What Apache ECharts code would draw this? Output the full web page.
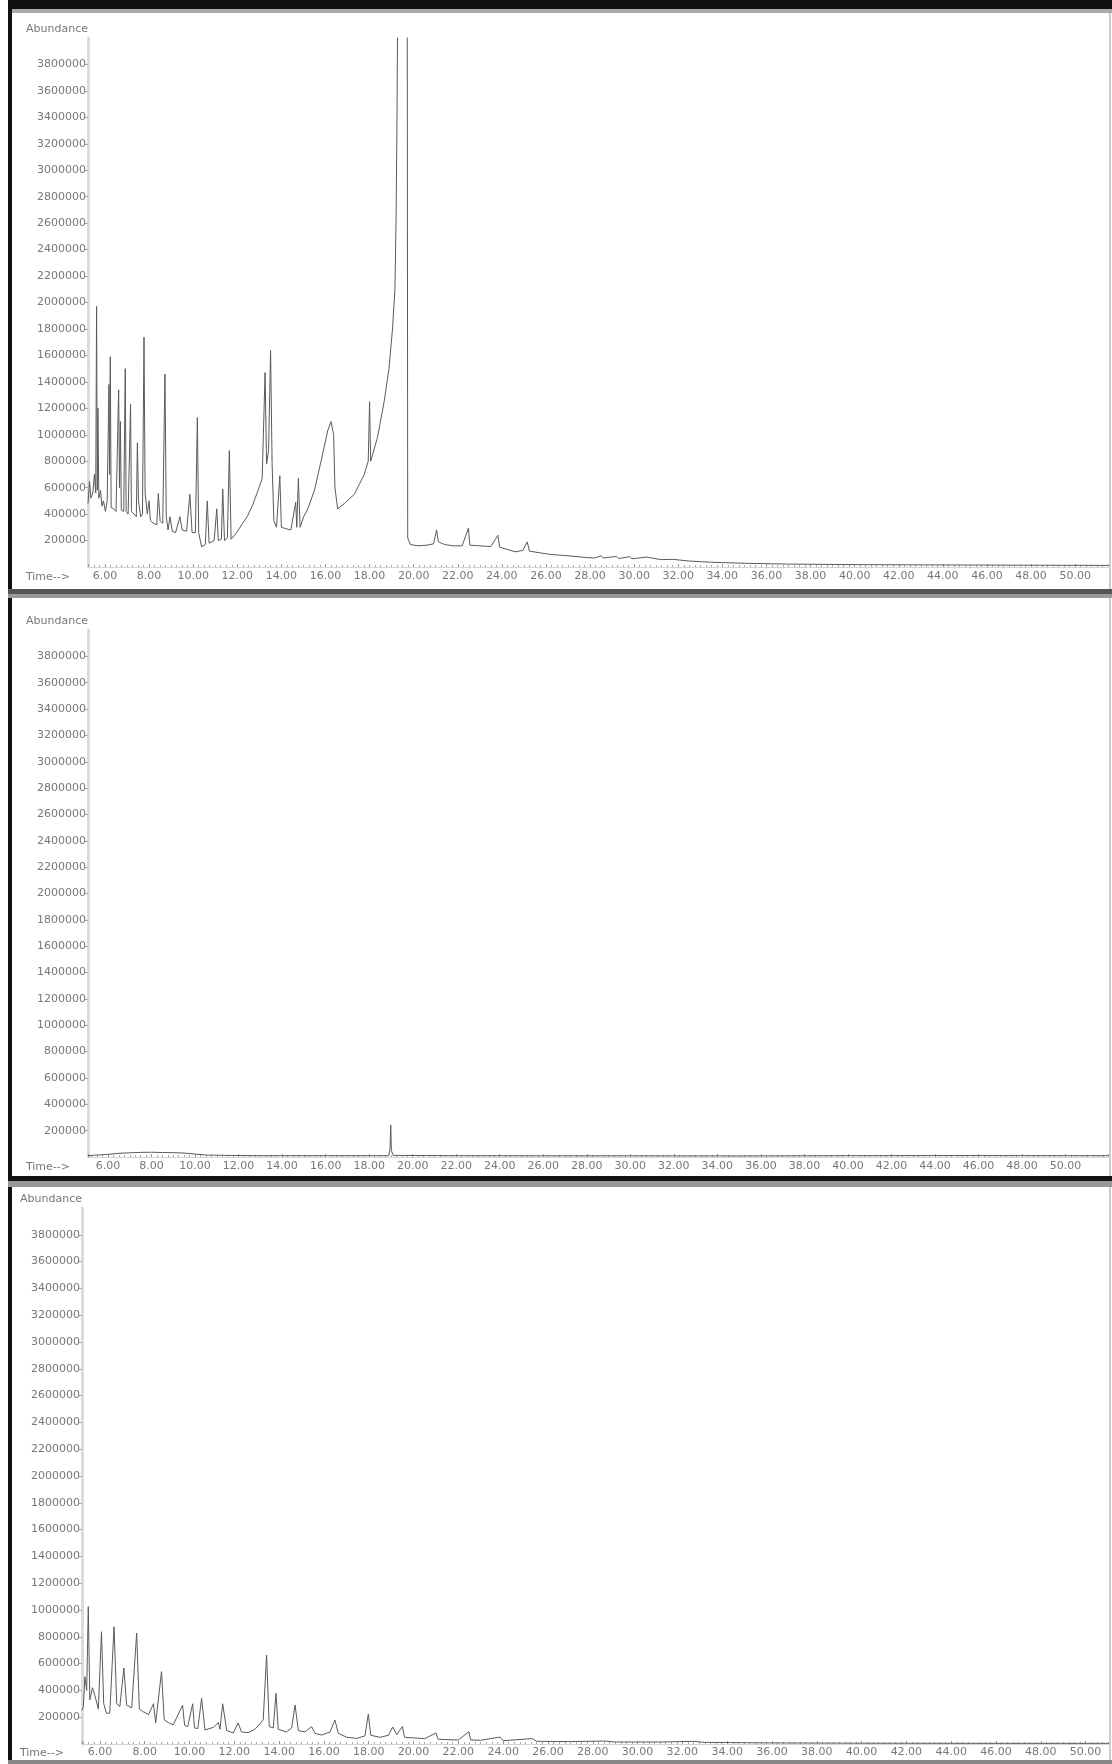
<!DOCTYPE html>
<html>
<head>
<meta charset="utf-8">
<title>TIC chromatograms</title>
<script src="https://cdn.jsdelivr.net/npm/echarts@6/dist/echarts.min.js"></script>
<style>
  html, body { margin: 0; padding: 0; background: #fff; }
  #chart { width: 1112px; height: 1764px; }
</style>
</head>
<body>
<div id="chart"></div>
<script>
// abundance, [time (min), abundance]
const traceTop = [
  [5.23, 480000], [5.30, 650000], [5.36, 520000], [5.45, 560000], [5.52, 700000],
  [5.58, 560000], [5.62, 1970000], [5.65, 580000], [5.68, 1200000], [5.72, 520000],
  [5.80, 580000], [5.86, 460000], [5.93, 500000], [6.02, 420000], [6.10, 500000],
  [6.18, 1380000], [6.21, 700000], [6.24, 1590000], [6.28, 450000], [6.40, 440000],
  [6.50, 420000], [6.62, 1340000], [6.66, 600000], [6.70, 1100000], [6.74, 430000],
  [6.85, 420000], [6.92, 1500000], [6.96, 420000], [7.05, 400000], [7.16, 1230000],
  [7.20, 420000], [7.32, 400000], [7.42, 380000], [7.47, 940000], [7.52, 500000],
  [7.62, 380000], [7.70, 400000], [7.77, 1737000], [7.82, 560000], [7.92, 400000],
  [8.00, 500000], [8.06, 350000], [8.20, 330000], [8.35, 320000], [8.42, 556000],
  [8.50, 350000], [8.62, 330000], [8.72, 1459000], [8.78, 380000], [8.86, 280000],
  [8.95, 380000], [9.05, 270000], [9.20, 260000], [9.40, 380000], [9.50, 280000],
  [9.70, 270000], [9.85, 550000], [9.95, 260000], [10.10, 260000], [10.19, 1130000],
  [10.25, 260000], [10.38, 153000], [10.55, 170000], [10.64, 500000], [10.72, 180000],
  [10.95, 200000], [11.07, 440000], [11.14, 200000], [11.28, 210000], [11.34, 590000],
  [11.42, 200000], [11.55, 220000], [11.64, 880000], [11.72, 210000], [11.97, 260000],
  [12.20, 320000], [12.45, 380000], [12.70, 470000], [12.90, 560000], [13.13, 670000],
  [13.26, 1470000], [13.33, 780000], [13.42, 880000], [13.51, 1637000], [13.58, 780000],
  [13.66, 350000], [13.78, 300000], [13.93, 690000], [14.00, 300000], [14.20, 290000],
  [14.43, 280000], [14.65, 490000], [14.70, 300000], [14.77, 670000], [14.85, 300000],
  [15.01, 380000], [15.20, 440000], [15.50, 580000], [15.80, 800000], [16.10, 1030000],
  [16.25, 1100000], [16.37, 1000000], [16.43, 600000], [16.55, 440000], [16.86, 480000],
  [17.31, 550000], [17.76, 700000], [17.94, 800000], [18.00, 1250000], [18.05, 800000],
  [18.36, 980000], [18.66, 1250000], [18.88, 1500000], [19.04, 1800000], [19.15, 2100000],
  [19.20, 2600000], [19.24, 3300000], [19.27, 4100000], [19.30, 6000000], [19.70, 6000000],
  [19.73, 220000], [19.85, 170000], [20.20, 160000], [20.60, 165000], [20.90, 175000],
  [21.04, 280000], [21.12, 190000], [21.40, 170000], [21.80, 160000], [22.20, 160000],
  [22.48, 293000], [22.55, 165000], [23.00, 160000], [23.50, 155000], [23.82, 240000],
  [23.90, 150000], [24.30, 130000], [24.60, 115000], [24.95, 125000], [25.15, 190000],
  [25.25, 120000], [25.80, 105000], [26.20, 95000], [27.00, 85000], [27.80, 72000],
  [28.20, 68000], [28.50, 85000], [28.60, 68000], [29.20, 80000], [29.30, 64000],
  [29.80, 78000], [29.90, 62000], [30.57, 75000], [30.65, 60000], [31.20, 56000],
  [31.76, 58000], [31.85, 50000], [32.50, 45000], [33.50, 36000], [35.00, 28000],
  [37.00, 22000], [40.00, 18000], [45.00, 15000], [51.49, 12000]
];

const traceMiddle = [
  [5.08, 10000], [5.50, 15000], [6.00, 20000], [6.50, 28000], [7.00, 32000],
  [7.50, 35000], [8.00, 36000], [8.50, 34000], [9.00, 33000], [9.50, 30000],
  [10.00, 22000], [10.50, 15000], [11.50, 12000], [13.00, 10000], [15.00, 10000],
  [17.00, 10000], [18.90, 10000], [18.96, 60000], [18.99, 243000], [19.02, 50000],
  [19.10, 12000], [22.00, 10000], [26.00, 9000], [30.00, 9000], [35.00, 8000],
  [40.00, 10000], [45.00, 11000], [50.00, 10000], [51.95, 10000]
];

const traceBottom = [
  [5.20, 250000], [5.26, 278000], [5.33, 502000], [5.41, 400000], [5.48, 1025000],
  [5.55, 330000], [5.67, 420000], [5.78, 360000], [5.93, 260000], [6.07, 838000],
  [6.17, 300000], [6.29, 230000], [6.44, 230000], [6.63, 875000], [6.75, 300000],
  [6.89, 280000], [7.07, 567000], [7.19, 290000], [7.42, 270000], [7.64, 828000],
  [7.76, 260000], [7.94, 240000], [8.17, 220000], [8.39, 300000], [8.49, 157000],
  [8.75, 540000], [8.87, 180000], [9.05, 160000], [9.27, 142000], [9.69, 290000],
  [9.78, 140000], [9.92, 130000], [10.14, 300000], [10.22, 120000], [10.37, 115000],
  [10.54, 341000], [10.69, 104000], [11.07, 125000], [11.29, 160000], [11.36, 110000],
  [11.48, 300000], [11.66, 100000], [11.95, 82000], [12.17, 157000], [12.32, 90000],
  [12.62, 85000], [12.92, 110000], [13.14, 150000], [13.29, 180000], [13.44, 664000],
  [13.56, 130000], [13.74, 120000], [13.86, 378000], [13.96, 110000], [14.33, 90000],
  [14.56, 120000], [14.71, 291000], [14.86, 100000], [15.15, 90000], [15.45, 130000],
  [15.60, 80000], [15.90, 67000], [16.27, 90000], [16.49, 179000], [16.64, 80000],
  [17.02, 50000], [17.46, 42000], [17.83, 60000], [17.98, 224000], [18.09, 65000],
  [18.50, 50000], [18.88, 65000], [19.07, 127000], [19.25, 70000], [19.50, 130000],
  [19.60, 50000], [20.50, 40000], [21.00, 82000], [21.10, 35000], [22.00, 30000],
  [22.47, 92000], [22.55, 30000], [23.00, 28000], [23.86, 52000], [24.00, 25000],
  [25.30, 40000], [25.50, 20000], [27.00, 18000], [28.50, 22000], [29.00, 15000],
  [31.00, 15000], [32.50, 20000], [33.00, 12000], [36.00, 8000], [40.00, 6000],
  [45.00, 5000], [51.09, 5000]
];

// visible time window of each panel (min)
const timeRanges = [[5.23, 51.49], [5.08, 51.95], [5.20, 51.09]];
const abundRange = [0, 4000000];

const textGrey = '#777';
const labelFont = 'DejaVu Sans';

function timeAxis(gridIndex, range, margin) {
  return {
    type: 'value',
    gridIndex: gridIndex,
    min: range[0],
    max: range[1],
    splitNumber: 23,
    minInterval: 2,
    maxInterval: 2,
    name: 'Time-->',
    nameLocation: 'start',
    nameGap: 18,
    nameTextStyle: { color: textGrey, fontSize: 11, fontFamily: labelFont, verticalAlign: 'top', padding: [margin + 1, 0, 0, 0] },
    axisLine: { lineStyle: { color: '#d4d4d4', width: 1 } },
    axisTick: { show: true, inside: true, length: 3, lineStyle: { color: '#999' } },
    minorTick: { show: true, splitNumber: 8, length: 2, lineStyle: { color: '#aaa' } },
    axisLabel: {
      margin: margin,
      color: textGrey,
      fontSize: 11,
      fontFamily: labelFont,
      showMinLabel: false,
      showMaxLabel: false,
      formatter: v => v.toFixed(2)
    },
    splitLine: { show: false }
  }
}

function abundAxis(gridIndex) {
  return {
    type: 'value',
    gridIndex: gridIndex,
    min: abundRange[0],
    max: abundRange[1],
    interval: 200000,
    name: 'Abundance',
    nameLocation: 'end',
    nameGap: 3,
    nameTextStyle: { color: textGrey, fontSize: 11, fontFamily: labelFont, align: 'right', verticalAlign: 'bottom' },
    axisLine: { show: true, lineStyle: { color: '#dcdcdc', width: 3 } },
    axisTick: { show: true, length: 3, lineStyle: { color: '#aaa' } },
    axisLabel: {
      margin: 2,
      color: textGrey,
      fontSize: 11,
      fontFamily: labelFont,
      showMinLabel: false,
      showMaxLabel: false,
      formatter: v => String(v)
    },
    splitLine: { show: false }
  }
}

function trace(index, data) {
  return {
    type: 'line',
    xAxisIndex: index,
    yAxisIndex: index,
    data: data,
    showSymbol: false,
    clip: true,
    lineStyle: { color: '#5a5a5a', width: 1 }
  }
}

// frame around the stacked panels
function bar(x, y, w, h, fill) {
  return { type: 'rect', shape: { x: x, y: y, width: w, height: h }, style: { fill: fill }, z: 100, silent: true }
}

const chart = echarts.init(document.getElementById('chart'), null, { renderer: 'canvas' });

chart.setOption({
  animation: false,
  backgroundColor: '#fff',
  grid: [
    { left: 88, top: 38, width: 1020, height: 529 },
    { left: 88, top: 630, width: 1020, height: 527 },
    { left: 82, top: 1208, width: 1028, height: 536 }
  ],
  xAxis: [
    timeAxis(0, timeRanges[0], 4),
    timeAxis(1, timeRanges[1], 4),
    timeAxis(2, timeRanges[2], 3)
  ],
  yAxis: [abundAxis(0), abundAxis(1), abundAxis(2)],
  series: [
    trace(0, traceTop),
    trace(1, traceMiddle),
    trace(2, traceBottom)
  ],
  graphic: [
    bar(8, 0, 1104, 9, '#111'),
    bar(8, 9, 1104, 4, '#aaa'),
    bar(8, 0, 4, 1764, '#111'),
    bar(8, 589, 1104, 5, '#555'),
    bar(8, 594, 1104, 4, '#999'),
    bar(8, 1176, 1104, 5, '#111'),
    bar(8, 1181, 1104, 6, '#999'),
    bar(8, 1760, 1104, 4, '#888'),
    bar(1109, 13, 2, 576, '#ccc'),
    bar(1109, 598, 2, 578, '#ccc'),
    bar(1109, 1187, 2, 573, '#ccc')
  ]
});
</script>
</body>
</html>
